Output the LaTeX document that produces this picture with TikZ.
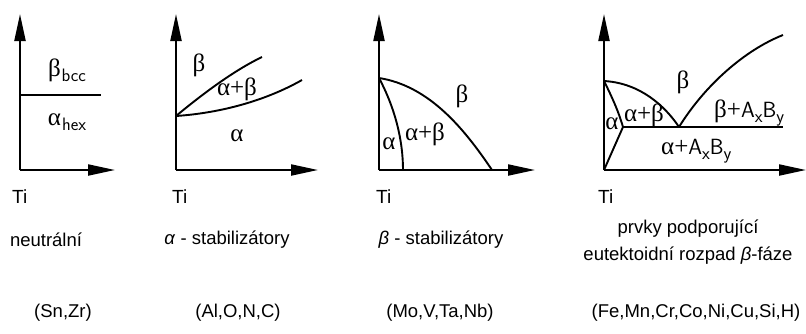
\documentclass[tikz,border=0pt]{standalone}
\usepackage{fontspec}
\setmainfont{Liberation Sans}
\newfontfamily\grk{Liberation Serif}
\usetikzlibrary{arrows.meta}
\tikzset{
  axis/.style={line width=2.1pt,-{Triangle[length=27pt,width=11pt]}},
  curve/.style={line width=1.9pt},
  lbl/.style={inner sep=0pt,font=\fontsize{18.5}{22}\selectfont},
  phase/.style={inner sep=0pt,font=\fontsize{25}{26}\grk},
  tilbl/.style={inner sep=0pt,anchor=west,font=\fontsize{19}{22}\selectfont},
}
\newcommand{\sub}[1]{\raisebox{-5pt}{\fontsize{18}{18}\selectfont\sffamily #1}}
\begin{document}
\begin{tikzpicture}[x=1pt,y=-1pt]
\useasboundingbox (0,0) rectangle (806,333);
% ---------- panel 1
\coordinate (o1) at (20,170);
\coordinate (t1) at (20,14);
\coordinate (r1) at (115,170);
\coordinate (h1a) at (20,95);
\coordinate (h1b) at (101,95);
\draw[axis] (o1) -- (t1);
\draw[axis] (o1) -- (r1);
\draw[curve] (h1a) -- (h1b);
\node[phase] (b1) at (67,70) {β\hspace{1pt}\sub{bcc}};
\node[phase] (a1) at (67,122) {α\hspace{1pt}\sub{hex}};
% ---------- panel 2
\coordinate (o2) at (176,170);
\coordinate (t2) at (176,14);
\coordinate (r2) at (318,170);
\coordinate (s2) at (176,116);
\coordinate (u2) at (262,57);
\coordinate (l2) at (302,80);
\draw[axis] (o2) -- (t2);
\draw[axis] (o2) -- (r2);
\draw[curve] (s2) .. controls (205,92) and (235,70) .. (u2);
\draw[curve] (s2) .. controls (220,113) and (265,101) .. (l2);
\node[phase] (b2) at (199,65) {β};
\node[phase] (ab2) at (237,89) {α+β};
\node[phase] (a2) at (237,136) {α};
% ---------- panel 3
\coordinate (o3) at (379,170);
\coordinate (t3) at (379,14);
\coordinate (r3) at (535,170);
\coordinate (s3) at (379,78);
\coordinate (e3) at (492,170);
\coordinate (i3) at (403,170);
\draw[axis] (o3) -- (t3);
\draw[axis] (o3) -- (r3);
\draw[curve] (s3) .. controls (430,86) and (465,130) .. (e3);
\draw[curve] (s3) .. controls (395,108) and (403,140) .. (i3);
\node[phase] (a3) at (389,144) {α};
\node[phase] (ab3) at (425,134) {α+β};
\node[phase] (b3) at (462,96) {β};
% ---------- panel 4
\coordinate (o4) at (604,170);
\coordinate (t4) at (604,14);
\coordinate (r4) at (806,170);
\coordinate (s4) at (604,81);
\coordinate (p4) at (623,127);
\coordinate (m4) at (679,127);
\coordinate (e4) at (783,127);
\coordinate (c4) at (783,35);
\draw[axis] (o4) -- (t4);
\draw[axis] (o4) -- (r4);
\draw[curve] (s4) .. controls (640,83) and (665,106) .. (m4);
\draw[curve] (m4) .. controls (705,85) and (745,50) .. (c4);
\draw[curve] (s4) .. controls (613,99) and (619,113) .. (p4);
\draw[curve] (p4) -- (o4);
\draw[curve] (p4) -- (e4);
\node[phase] (a4) at (612,124) {α};
\node[phase] (ab4) at (644,115) {α+β};
\node[phase] (b4) at (683,82) {β};
\node[phase,anchor=west] (bab4) at (714,113) {β+{\sffamily\fontsize{22}{22}\selectfont A\sub{x}B\sub{y}}};
\node[phase,anchor=west] (aab4) at (661,151) {α+{\sffamily\fontsize{22}{22}\selectfont A\sub{x}B\sub{y}}};
% ---------- Ti labels
\node[tilbl] (ti1) at (12,197) {Ti};
\node[tilbl] (ti2) at (172,197) {Ti};
\node[tilbl] (ti3) at (376,197) {Ti};
\node[tilbl] (ti4) at (598,197) {Ti};
% ---------- captions
\node[lbl] (c1) at (46,240) {neutrální};
\node[lbl] (c2) at (227,240) {\textit{α} - stabilizátory};
\node[lbl] (c3) at (441,240) {\textit{β} - stabilizátory};
\node[lbl] (c4a) at (688,229) {prvky podporující};
\node[lbl] (c4b) at (688,256) {eutektoidní rozpad \textit{β}-fáze};
\node[lbl] (d1) at (63,313) {(Sn,Zr)};
\node[lbl] (d2) at (238,313) {(Al,O,N,C)};
\node[lbl] (d3) at (440,313) {(Mo,V,Ta,Nb)};
\node[lbl] (d4) at (696,313) {(Fe,Mn,Cr,Co,Ni,Cu,Si,H)};
\end{tikzpicture}
\end{document}
